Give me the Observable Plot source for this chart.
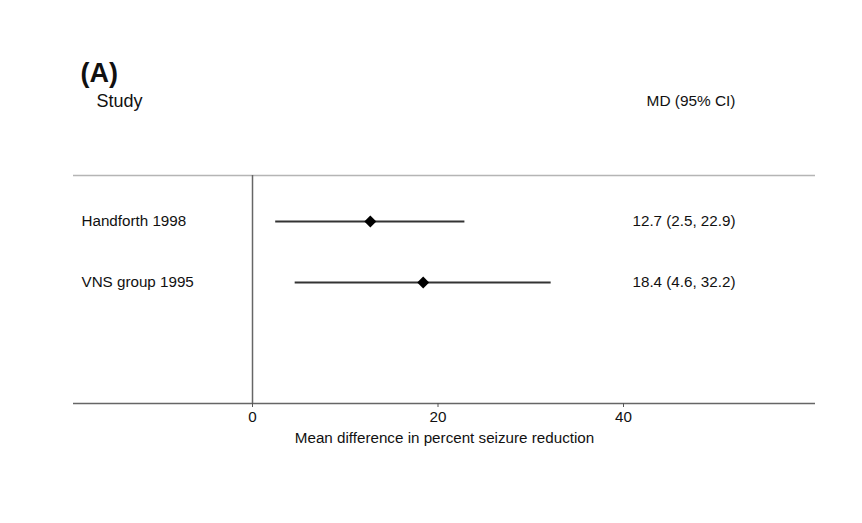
<!DOCTYPE html>
<html>
<head>
<meta charset="utf-8">
<script src="https://cdn.jsdelivr.net/npm/d3@7"></script>
<script src="https://cdn.jsdelivr.net/npm/@observablehq/plot@0.6"></script>
<style>
  html, body { margin: 0; padding: 0; background: #fff; }
  #chart svg { display: block; }
</style>
</head>
<body>
<div id="chart"></div>
<script>
// Data
const studies = ["Handforth 1998", "VNS group 1995"];
const rows = [1, 2];
const md = [12.7, 18.4];
const ciLow = [2.5, 4.6];
const ciHigh = [22.9, 32.2];
const xTicks = [0, 20, 40];
const panelLabel = "(A)";
const studyHeader = "Study";
const estHeader = "MD (95% CI)";
const xLabel = "Mean difference in percent seizure reduction";

const data = studies.map((s, i) => ({
  study: s, row: rows[i], md: md[i], lo: ciLow[i], hi: ciHigh[i],
  txt: `${md[i].toFixed(1)} (${ciLow[i].toFixed(1)}, ${ciHigh[i].toFixed(1)})`
}));

const yDomain = [0.246, 3.984];
const font = "'Liberation Sans', Arial, Helvetica, sans-serif";

const chart = Plot.plot({
  width: 862,
  height: 523,
  marginLeft: 73,
  marginRight: 47,
  marginTop: 175,
  marginBottom: 120,
  style: { fontFamily: font, fontSize: "15px", color: "#111", background: "#fff" },
  x: { domain: [-19.3, 60.7] },
  y: { domain: yDomain, reverse: true, axis: null },
  marks: [
    Plot.ruleY([yDomain[0]], { stroke: "#b5b5b5", strokeWidth: 1.5 }),
    Plot.ruleY([yDomain[1]], { stroke: "#666", strokeWidth: 1.5 }),
    Plot.ruleX([0], { stroke: "#666", strokeWidth: 1.5 }),
    Plot.axisX({
      ticks: xTicks, tickSize: 4, tickPadding: 4, stroke: "#555",
      fontSize: 15.2, label: xLabel, labelAnchor: "center", labelArrow: "none", labelOffset: 39
    }),
    Plot.ruleY(data, { y: "row", x1: "lo", x2: "hi", stroke: "#333", strokeWidth: 1.8 }),
    Plot.dot(data, { x: "md", y: "row", symbol: "diamond2", r: 5.4, fill: "#000", stroke: "none" }),
    Plot.text(data, { y: "row", text: "study", frameAnchor: "left", dx: 8, textAnchor: "start", fontSize: 15.2, fill: "#111" }),
    Plot.text(data, { y: "row", text: "txt", frameAnchor: "right", dx: -80, textAnchor: "end", fontSize: 15.2, fill: "#111" }),
    Plot.text([studyHeader], { text: d => d, frameAnchor: "top-left", dx: 23, dy: -74, textAnchor: "start", lineAnchor: "middle", fontSize: 18, fill: "#111" }),
    Plot.text([estHeader], { text: d => d, frameAnchor: "top-right", dx: -80, dy: -74, textAnchor: "end", lineAnchor: "middle", fontSize: 15.4, fill: "#111" }),
    Plot.text([panelLabel], { text: d => d, frameAnchor: "top-left", dx: 7, dy: -102, textAnchor: "start", lineAnchor: "middle", fontSize: 27, fontWeight: "bold", fill: "#111" })
  ]
});
document.getElementById("chart").appendChild(chart);
</script>
</body>
</html>
